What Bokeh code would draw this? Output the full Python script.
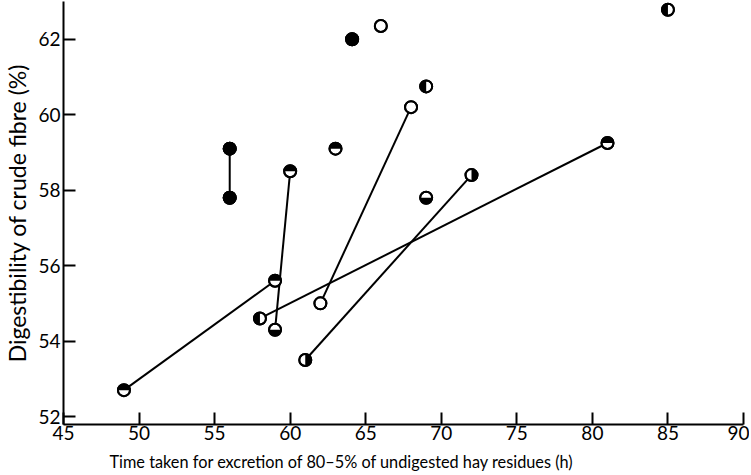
from bokeh.plotting import figure
from bokeh.models import Range1d, FixedTicker, Title
from bokeh.embed import file_html
from bokeh.resources import INLINE
import math

# Marker groups (x: time in h, y: digestibility %)
filled_x = [56, 56, 64.1]
filled_y = [59.1, 57.8, 62.0]
open_x = [66.0, 68.0, 62.0]
open_y = [62.35, 60.2, 55.0]
top_x = [49, 59, 60, 63.0, 81]
top_y = [52.7, 55.6, 58.5, 59.1, 59.25]
bottom_x = [59, 69]
bottom_y = [54.3, 57.8]
left_x = [58, 69, 85]
left_y = [54.6, 60.75, 62.78]
right_x = [61, 72]
right_y = [53.5, 58.4]

# Lines joining paired observations
link_x0 = [56, 60, 68, 72, 81, 59]
link_y0 = [59.1, 58.5, 60.2, 58.4, 59.25, 55.6]
link_x1 = [56, 59, 62, 61, 58, 49]
link_y1 = [57.8, 54.3, 55.0, 53.5, 54.6, 52.7]

x_ticks = [45, 50, 55, 60, 65, 70, 75, 80, 85, 90]
y_ticks = [52, 54, 56, 58, 60, 62]
x_title = "Time taken for excretion of 80\u20135% of undigested hay residues (h)"
y_title = "Digestibility of crude fibre (%)"

FONT = "Lato"

p = figure(frame_width=680, frame_height=423, output_backend="svg",
           toolbar_location=None, x_range=Range1d(45, 90), y_range=Range1d(51.79, 63.0),
           min_border_left=57, min_border_right=6, min_border_top=1, min_border_bottom=5)
p.outline_line_color = None
p.xgrid.visible = False
p.ygrid.visible = False
p.background_fill_color = "white"
p.border_fill_color = "white"

for ax, ticks in ((p.xaxis[0], x_ticks), (p.yaxis[0], y_ticks)):
    ax.ticker = FixedTicker(ticks=ticks)
    ax.axis_line_width = 2
    ax.axis_line_color = "black"
    ax.major_tick_line_width = 2
    ax.major_tick_line_color = "black"
    ax.major_tick_in = 12
    ax.major_tick_out = 0
    ax.minor_tick_line_color = None
    ax.major_label_text_font = FONT
    ax.major_label_text_font_size = "19px"
    ax.major_label_text_color = "black"

p.xaxis.major_label_standoff = 1
p.yaxis.major_label_standoff = 3
p.yaxis.axis_label = y_title
p.yaxis.axis_label_text_font = FONT
p.yaxis.axis_label_text_font_style = "normal"
p.yaxis.axis_label_text_font_size = "23px"
p.yaxis.axis_label_text_color = "black"
p.yaxis.axis_label_standoff = 4

p.add_layout(Title(text=x_title, align="left", offset=46, standoff=14,
                   text_font=FONT, text_font_size="16.3px",
                   text_font_style="normal", text_color="black"), "below")

p.segment(link_x0, link_y0, link_x1, link_y1, line_color="black", line_width=2)

R = 6
all_x = filled_x + open_x + top_x + bottom_x + left_x + right_x
all_y = filled_y + open_y + top_y + bottom_y + left_y + right_y
p.scatter(all_x, all_y, size=2 * R, fill_color="white", line_color="black", line_width=2)
p.scatter(filled_x, filled_y, size=2 * R, fill_color="black", line_color="black", line_width=2)

halves = [(top_x, top_y, 0, math.pi), (bottom_x, bottom_y, math.pi, 2 * math.pi),
          (left_x, left_y, math.pi / 2, 3 * math.pi / 2), (right_x, right_y, -math.pi / 2, math.pi / 2)]
for hx, hy, a0, a1 in halves:
    p.wedge(hx, hy, radius=R, radius_units="screen", start_angle=a0, end_angle=a1,
            fill_color="black", line_color=None)
p.scatter(all_x, all_y, size=2 * R, fill_color=None, line_color="black", line_width=2)

open("out.html", "w").write(file_html(p, INLINE))
